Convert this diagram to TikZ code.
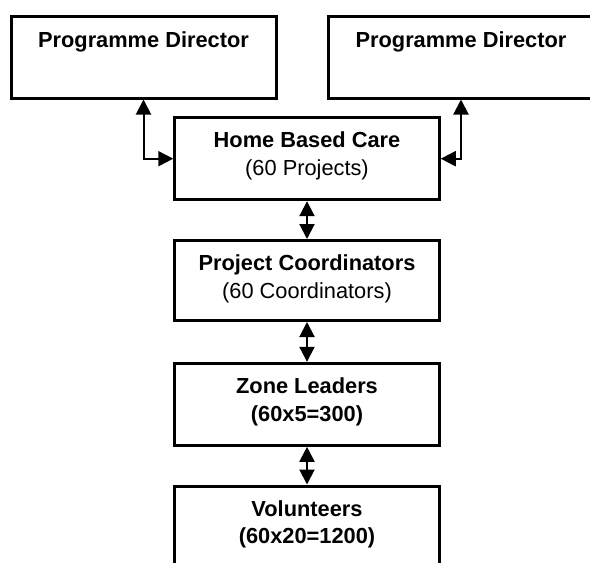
\documentclass[tikz,border=0pt]{standalone}
\usepackage{fontspec}
\setmainfont{Liberation Sans}
\usetikzlibrary{arrows.meta}
\tikzset{
  box/.style={draw=black, line width=3pt, fill=white, rectangle, inner sep=0pt},
  lbl/.style={anchor=base, align=center, inner sep=0pt, font=\fontsize{21.8}{27.5}\selectfont},
  dbl/.style={line width=2pt, {Triangle[length=15pt,width=15pt]}-{Triangle[length=15pt,width=15pt]}},
}
\begin{document}
\begin{tikzpicture}[x=1pt,y=-1pt]
\clip (0,0) rectangle (590,563);
\fill[white] (0,0) rectangle (590,563);
% boxes
\node[box, minimum width=265pt, minimum height=82pt] (pdl) at (143.5,57) {};
\node[box, minimum width=265pt, minimum height=82pt] (pdr) at (461,57) {};
\node[box, minimum width=264.5pt, minimum height=82pt] (hbc) at (307,158.7) {};
\node[box, minimum width=264.5pt, minimum height=80pt] (pc) at (307,280.5) {};
\node[box, minimum width=264.5pt, minimum height=82pt] (zl) at (307,404.3) {};
\node[box, minimum width=264.5pt, minimum height=120pt] (vol) at (307,546) {};
% texts (anchor at baseline of the last line)
\node[lbl] (pdlt) at (143.5,47) {\textbf{Programme Director}};
\node[lbl] (pdrt) at (461,47) {\textbf{Programme Director}};
\node[lbl] (hbct) at (307,175) {\textbf{Home Based Care}\\(60 Projects)};
\node[lbl] (pct) at (307,298) {\textbf{Project Coordinators}\\(60 Coordinators)};
\node[lbl] (zlt) at (307,421) {\textbf{Zone Leaders}\\\textbf{(60x5=300)}};
\node[lbl] (volt) at (307,543.5) {\textbf{Volunteers}\\\textbf{(60x20=1200)}};
% connectors
\draw[dbl] (pdl.south) |- (hbc.west);
\draw[dbl] (pdr.south) |- (hbc.east);
\draw[dbl] (hbc.south) -- (pc.north);
\draw[dbl] (pc.south) -- (zl.north);
\draw[dbl] (zl.south) -- (vol.north);
\end{tikzpicture}
\end{document}
